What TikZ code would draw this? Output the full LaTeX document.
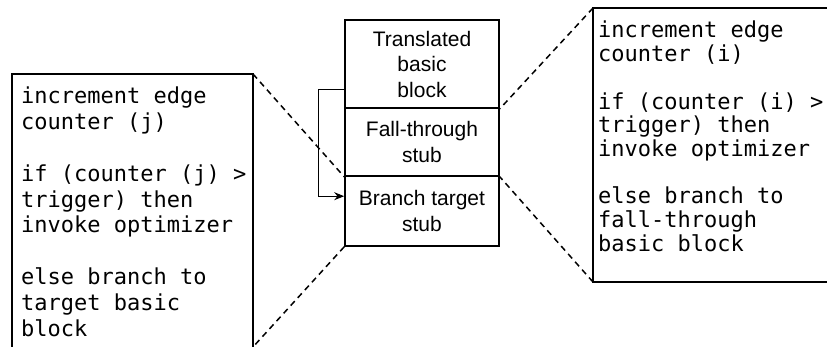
\documentclass[tikz,border=0pt]{standalone}
\usepackage{fontspec}
\setmainfont{Liberation Sans}
\newfontfamily\codefont{DejaVu Sans Mono}
\usetikzlibrary{arrows.meta}
\tikzset{
  frame/.style={line width=1.6pt},
  sect/.style={draw, line width=1.6pt, minimum width=154pt, inner sep=0pt, align=center,
    font=\fontsize{21}{25.5}\selectfont},
  dashes/.style={line width=1.5pt, dash pattern=on 6pt off 4.5pt},
  code/.style={inner sep=0pt, anchor=base west},
  link/.style={line width=1pt, -{Stealth[length=10pt,width=8pt]}}
}
\begin{document}
\begin{tikzpicture}[x=1pt,y=-1pt]
\useasboundingbox (0,0) rectangle (827,347);
% central stack
\node[sect, minimum height=88pt] (sec1) at (422,64) {Translated\\basic\\block};
\node[sect, minimum height=68pt] (sec2) at (422,142) {Fall-through\\stub};
\node[sect, minimum height=70pt] (sec3) at (422,211) {Branch target\\stub};
% left box frame
\coordinate (ltl) at (12,74);
\coordinate (ltr) at (253,74);
\coordinate (lbl) at (12,347);
\coordinate (lbr) at (253,347);
\draw[frame] (lbl) -- (ltl) -- (ltr) -- (lbr);
% right box frame
\coordinate (rtl) at (593,8);
\coordinate (rtr) at (827,8);
\coordinate (rbl) at (593,282);
\coordinate (rbr) at (827,282);
\draw[frame] (rtr) -- (rtl) -- (rbl) -- (rbr);
% texts
\node[code] (ltext) at (21,104) {\parbox[t]{230pt}{\codefont\fontsize{22}{25.8}\selectfont
increment edge\\
counter (j)\\[25.8pt]
if (counter (j) >\\
trigger) then\\
invoke optimizer\\[25.8pt]
else branch to\\
target basic\\
block}};
\node[code] (rtext) at (598,38) {\parbox[t]{228pt}{\codefont\fontsize{22}{23.7}\selectfont
increment edge\\
counter (i)\\[23.7pt]
if (counter (i) >\\
trigger) then\\
invoke optimizer\\[23.7pt]
else branch to\\
fall-through\\
basic block}};
% dashed zoom lines
\draw[dashes] (ltr) -- (sec2.south west);
\draw[dashes] (sec3.south west) -- (lbr);
\draw[dashes] (rtl) -- (sec1.south east);
\draw[dashes] (rbl) -- (sec2.south east);
% branch arrow
\draw[link] ([yshift=19pt]sec1.south west) -- ++(-26pt,0) |- ([yshift=-21pt]sec3.north west);
\end{tikzpicture}
\end{document}
